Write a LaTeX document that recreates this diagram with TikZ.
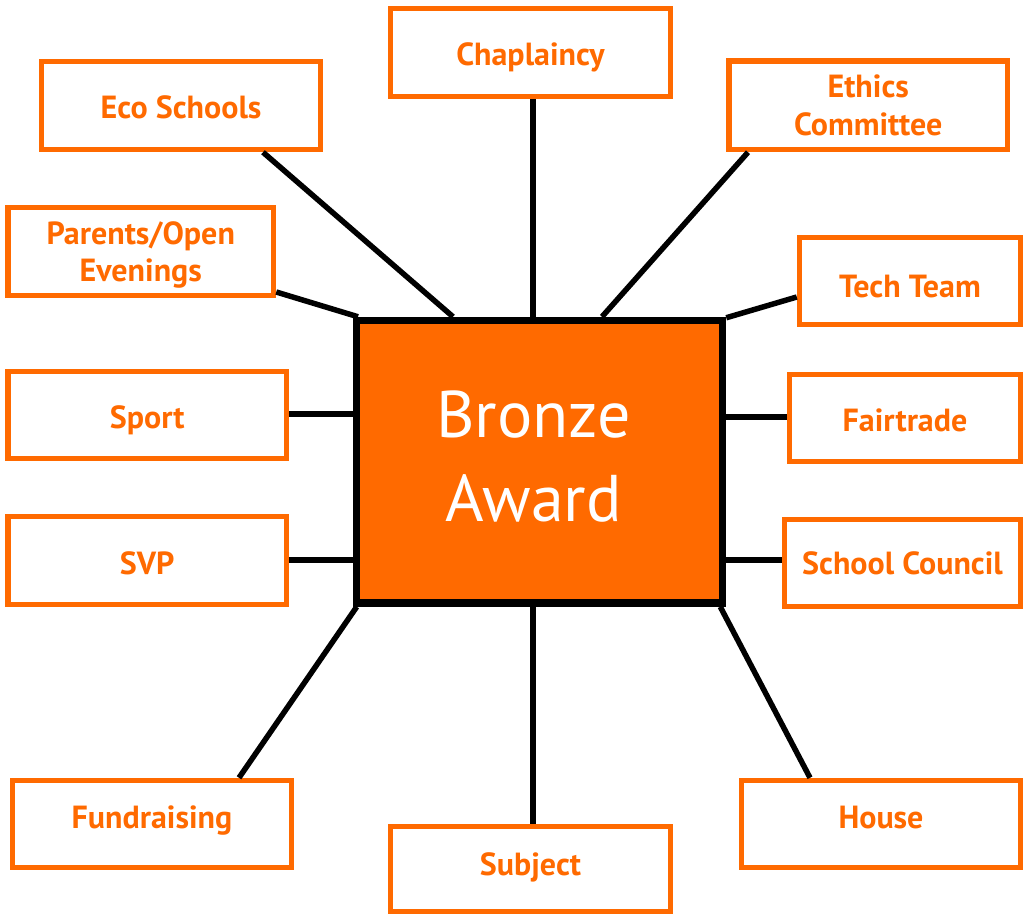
\documentclass[tikz,border=0pt]{standalone}
\usepackage{fontspec}
\setmainfont{PT Sans}
\usetikzlibrary{calc}
\definecolor{bronzeorange}{RGB}{255,106,0}
\begin{document}
\begin{tikzpicture}[x=1pt,y=-1pt,
  item/.style={draw=bronzeorange, line width=5.5pt, fill=white, text=bronzeorange,
    font=\bfseries\fontsize{32}{37.5}\selectfont, align=center, inner sep=0pt},
  oneline/.style={item, text height=25pt, text depth=0pt},
  hub/.style={draw=black, line width=7.5pt, fill=bronzeorange, inner sep=0pt},
  hubtext/.style={text=white, font=\fontsize{66}{84}\selectfont, align=center, inner sep=0pt},
  link/.style={draw=black, line width=5.5pt}]
\useasboundingbox (0,0) rectangle (1029,914);

\node[hub, minimum width=366pt, minimum height=282.5pt] (bronze) at (539.5,461.75) {};
\node[hubtext] (bronzetext) at (533.5,457) {Bronze\\Award};

\node[oneline, text height=26.4pt, minimum width=280pt, minimum height=88pt] (chap) at (530.5,52.5) {Chaplaincy};
\node[oneline, minimum width=279pt, minimum height=88pt] (eco) at (181,105.5) {Eco Schools};
\node[item, minimum width=278.5pt, minimum height=88.5pt] (ethics) at (868.25,105.25) {Ethics\\Committee};
\node[item, text depth=0pt, minimum width=265.5pt, minimum height=88pt] (parents) at (140.75,251.5) {Parents/Open\\Evenings};
\node[oneline, text height=33.4pt, minimum width=221pt, minimum height=87pt] (tech) at (910,281) {Tech Team};
\node[oneline, text height=27.4pt, minimum width=278.5pt, minimum height=87pt] (sport) at (147.25,415) {Sport};
\node[oneline, text height=26.4pt, minimum width=231pt, minimum height=87pt] (fair) at (905,418) {Fairtrade};
\node[oneline, text height=27.4pt, minimum width=278.5pt, minimum height=88pt] (svp) at (147.25,560.5) {SVP};
\node[oneline, text height=23.4pt, minimum width=236pt, minimum height=87pt] (council) at (902.5,563) {School Council};
\node[oneline, text depth=15.6pt, minimum width=279pt, minimum height=87pt] (fund) at (152,824) {Fundraising};
\node[oneline, text depth=11.6pt, minimum width=280pt, minimum height=84.75pt] (subject) at (530.5,868.9) {Subject};
\node[oneline, text depth=15.6pt, minimum width=279pt, minimum height=87pt] (house) at (881,824) {House};

\draw[link] ($(chap.south)+(2.5,0)$) -- ($(bronze.north)+(-6.5,0)$);
\draw[link] ($(eco.south)+(82,0)$) -- ($(bronze.north)+(-86.5,0)$);
\draw[link] ($(ethics.south)+(-120.25,0)$) -- ($(bronze.north)+(62.5,0)$);
\draw[link] ($(parents.east)+(0,40.5)$) -- ($(bronze.north west)+(5.25,0)$);
\draw[link] ($(tech.west)+(0,16)$) -- ($(bronze.north east)+(0,1)$);
\draw[link] ($(sport.east)+(0,-1)$) -- ($(sport.east -| bronze.west)+(0,-1)$);
\draw[link] ($(svp.east)+(0,-0.5)$) -- ($(svp.east -| bronze.west)+(0,-0.5)$);
\draw[link] ($(fair.west -| bronze.east)+(0,-1)$) -- ($(fair.west)+(0,-1)$);
\draw[link] ($(council.west -| bronze.east)+(0,-3)$) -- ($(council.west)+(0,-3)$);
\draw[link] ($(fund.north)+(87,0)$) -- ($(bronze.south west)+(4,0)$);
\draw[link] ($(subject.north)+(2.5,0)$) -- ($(bronze.south)+(-6.5,0)$);
\draw[link] ($(house.north)+(-71,0)$) -- ($(bronze.south east)+(-6,0)$);
\end{tikzpicture}
\end{document}
